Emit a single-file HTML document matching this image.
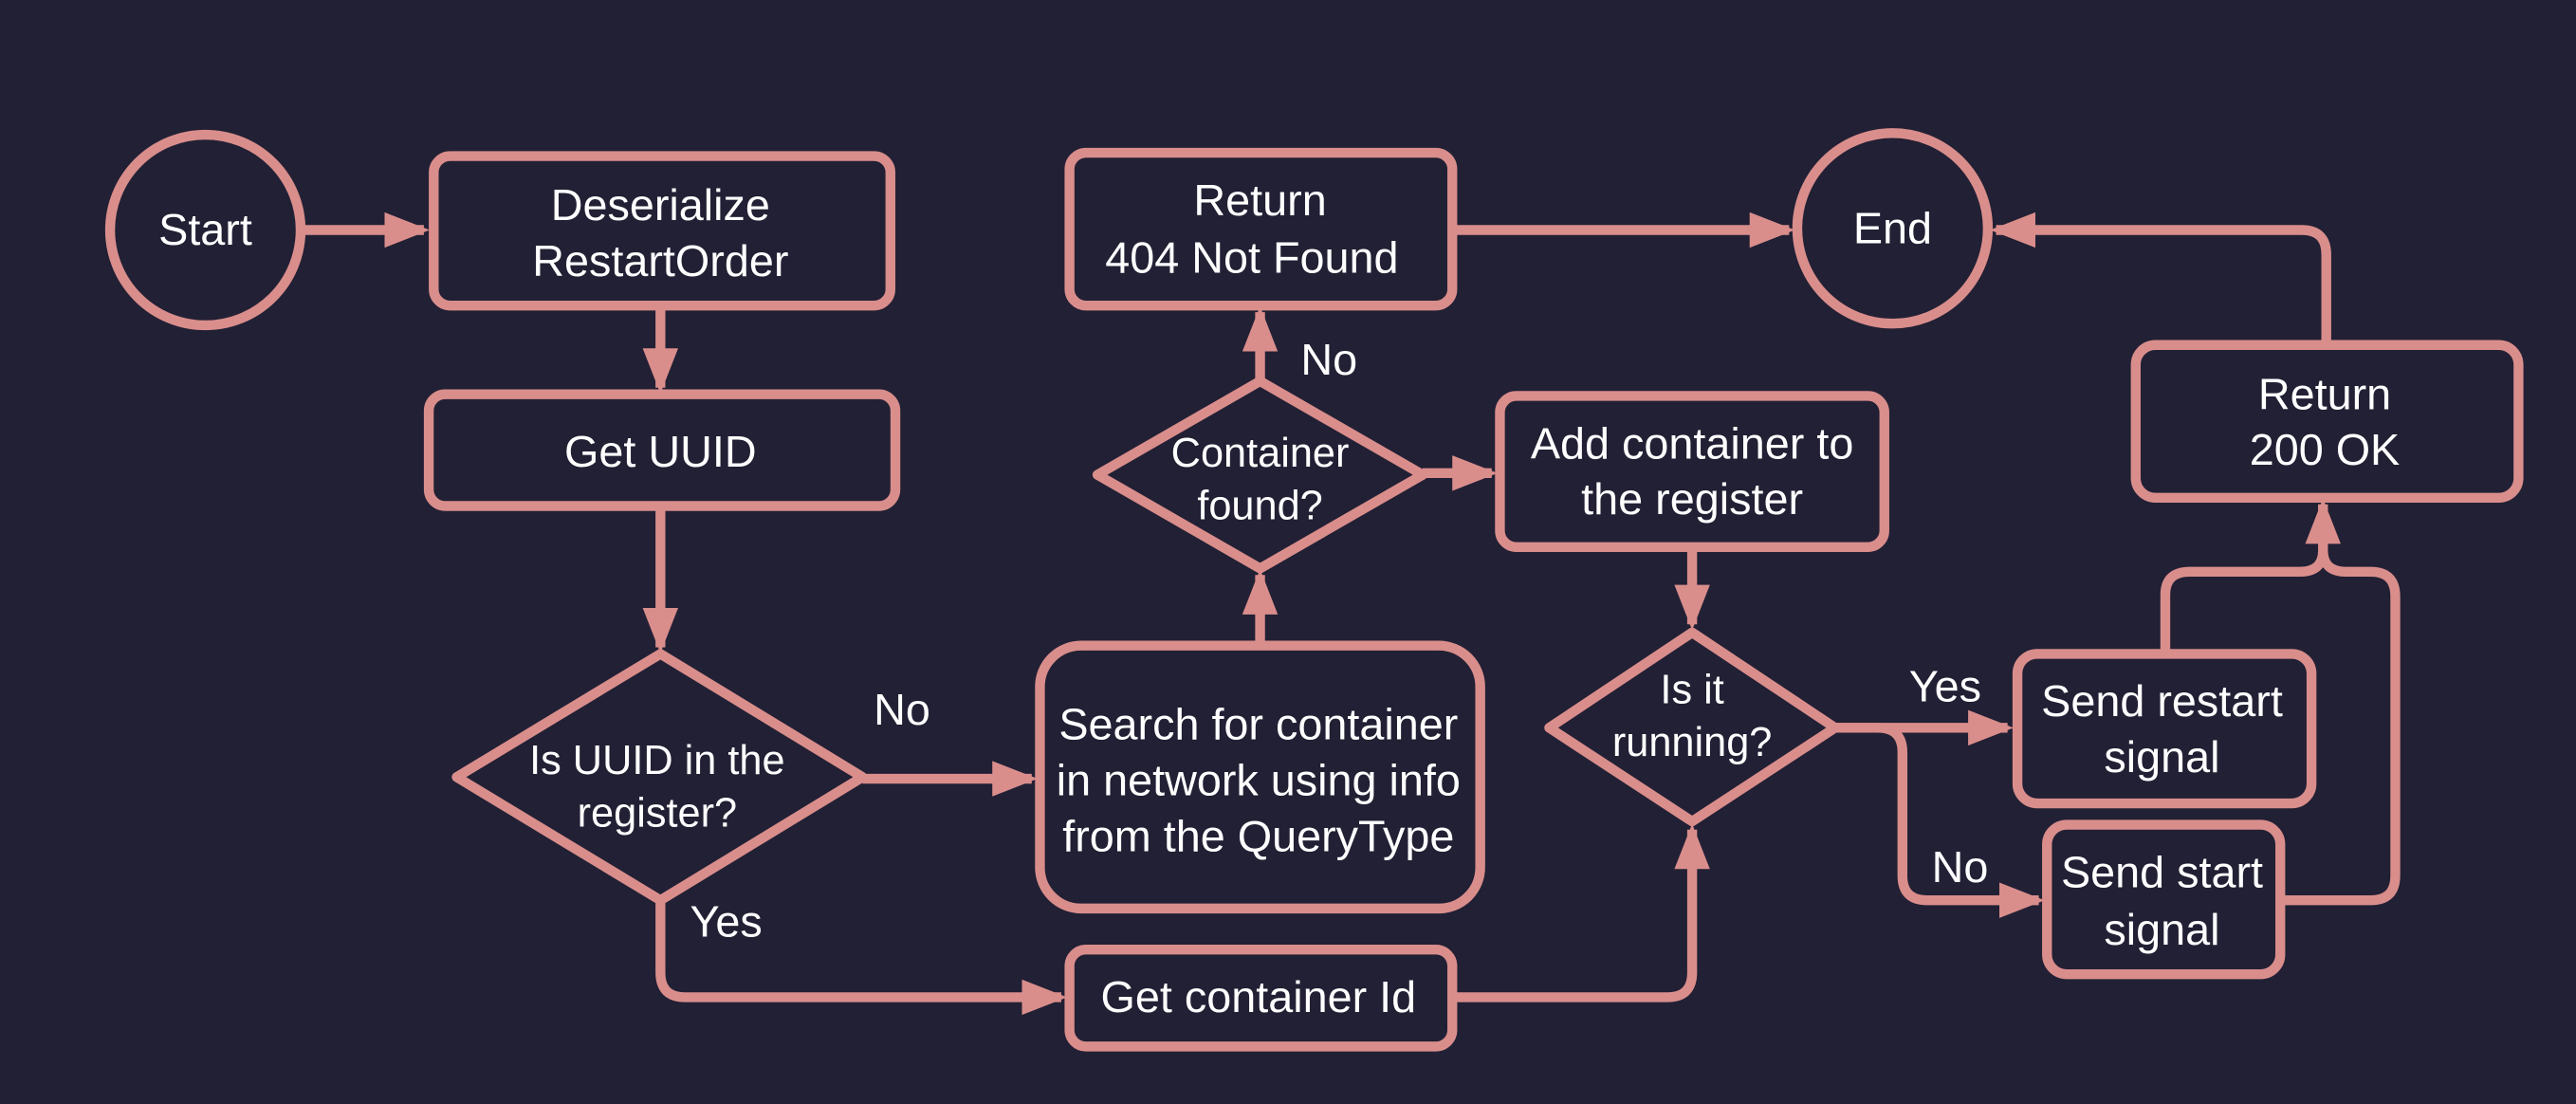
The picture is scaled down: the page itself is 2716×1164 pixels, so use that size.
<!DOCTYPE html>
<html><head><meta charset="utf-8"><style>
html,body{margin:0;padding:0;background:#222034;}
svg{display:block;}
text{font-family:"Liberation Sans",sans-serif;fill:#fff;text-anchor:middle;}
</style></head><body>
<svg width="2716" height="1164" viewBox="0 0 1568 672" xmlns="http://www.w3.org/2000/svg">
<defs>
<marker id="a" markerWidth="4.6" markerHeight="3.6" refX="4" refY="1.8" orient="auto" markerUnits="strokeWidth">
<path d="M0,0 L4.6,1.8 L0,3.6 Z" fill="#d98e8c"/>
</marker>
</defs>
<rect width="1568" height="672" fill="#222034"/>
<g fill="none" stroke="#d98e8c" stroke-width="6" stroke-linejoin="round">
<circle cx="125" cy="140" r="58"/>
<circle cx="1152" cy="139" r="58"/>
<rect x="264" y="95" width="278" height="91" rx="10"/>
<rect x="261" y="240" width="284" height="68" rx="10"/>
<polygon points="278,473 402,398 525,473 402,548"/>
<rect x="633" y="393" width="268" height="160" rx="25"/>
<polygon points="668,289 767,232 866,289 767,346"/>
<rect x="651" y="93" width="233" height="93" rx="10"/>
<rect x="913" y="241" width="234" height="92" rx="10"/>
<polygon points="943,443 1030,385 1117,443 1030,500"/>
<rect x="651" y="578" width="233" height="59" rx="10"/>
<rect x="1228" y="398" width="179" height="91" rx="12"/>
<rect x="1246" y="502" width="142" height="91" rx="12"/>
<rect x="1300" y="210" width="233" height="93" rx="12"/>
</g>
<g fill="none" stroke="#d98e8c" stroke-width="6">
<path d="M1388,548 H1443 Q1458,548 1458,533 V363 Q1458,348 1443,348 H1428 Q1414,348 1414,335"/>
</g>
<g fill="none" stroke="#d98e8c" stroke-width="6" marker-end="url(#a)">
<path d="M183,140 H258"/>
<path d="M402,186 V236"/>
<path d="M402,308 V394"/>
<path d="M525,474 H628"/>
<path d="M402,548 V592 Q402,607 417,607 H646"/>
<path d="M767,393 V350"/>
<path d="M767,232 V190"/>
<path d="M884,140 H1089"/>
<path d="M866,288 H908"/>
<path d="M1030,333 V380"/>
<path d="M884,607 H1015 Q1030,607 1030,592 V505"/>
<path d="M1117,443 H1222"/>
<path d="M1117,443 H1143 Q1158,443 1158,458 V533 Q1158,548 1173,548 H1241"/>
<path d="M1318,398 V362 Q1318,348 1333,348 H1400 Q1414,348 1414,335 V307"/>
<path d="M1416,210 V155 Q1416,140 1401,140 H1215"/>
</g>
<g font-size="27">
<text x="125" y="149">Start</text>
<text x="1152" y="148">End</text>
<text x="402" y="134">Deserialize</text>
<text x="402" y="168">RestartOrder</text>
<text x="402" y="284">Get UUID</text>
<text x="766" y="450">Search for container</text>
<text x="766" y="484">in network using info</text>
<text x="766" y="518">from the QueryType</text>
<text x="767" y="131">Return</text>
<text x="762" y="166">404 Not Found</text>
<text x="1030" y="279">Add container to</text>
<text x="1030" y="313">the register</text>
<text x="766" y="616">Get container Id</text>
<text x="1316" y="436">Send restart</text>
<text x="1316" y="470">signal</text>
<text x="1316" y="540">Send start</text>
<text x="1316" y="575">signal</text>
<text x="1415" y="249">Return</text>
<text x="1415" y="283">200 OK</text>
<text x="549" y="441">No</text>
<text x="442" y="570">Yes</text>
<text x="809" y="228">No</text>
<text x="1184" y="427">Yes</text>
<text x="1193" y="537">No</text>
</g>
<g font-size="25">
<text x="400" y="471">Is UUID in the</text>
<text x="400" y="503">register?</text>
<text x="767" y="284">Container</text>
<text x="767" y="316">found?</text>
<text x="1030" y="428">Is it</text>
<text x="1030" y="460">running?</text>
</g>
</svg>
</body></html>
